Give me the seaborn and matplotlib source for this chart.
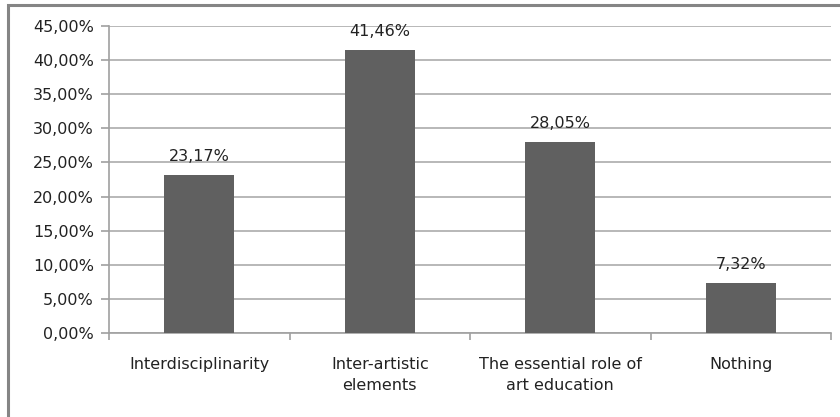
import matplotlib
matplotlib.use("Agg")
import matplotlib.pyplot as plt
import seaborn as sns
import pandas as pd
from matplotlib.ticker import FuncFormatter, MultipleLocator
from matplotlib.patches import Rectangle

categories = ["Interdisciplinarity", "Inter-artistic\nelements",
              "The essential role of\nart education", "Nothing"]
shares = [23.17, 41.46, 28.05, 7.32]

df = pd.DataFrame({"category": categories, "share": shares})

sns.set_theme(style="white")
plt.rcParams["font.family"] = ["DejaVu Sans"]

fig = plt.figure(figsize=(8.4, 4.17), dpi=100)
ax = fig.add_axes([0.1298, 0.2014, 0.8595, 0.7362])

sns.barplot(data=df, x="category", y="share", color="#606060",
            saturation=1, width=0.39, ax=ax, zorder=3,
            edgecolor="#606060", linewidth=0)

ax.set_ylim(0, 45)
ax.set_xlim(-0.5, 3.5)
ax.yaxis.set_major_locator(MultipleLocator(5))
ax.yaxis.set_major_formatter(FuncFormatter(lambda v, _: f"{v:.2f}%".replace(".", ",")))
ax.grid(axis="y", color="#ababab", linewidth=1.2, zorder=0)
ax.set_axisbelow(True)
ax.set_xlabel("")
ax.set_ylabel("")

for side in ["top", "right"]:
    ax.spines[side].set_visible(False)
for side in ["left", "bottom"]:
    ax.spines[side].set_color("#a0a0a0")
    ax.spines[side].set_linewidth(1.2)

# Ticks: y ticks outward to the left, x ticks at category boundaries
ax.tick_params(axis="y", which="major", length=6, width=1.2, color="#a0a0a0",
               labelsize=11.5, labelcolor="#222222", pad=5, left=True)
ax.set_xticks(range(len(categories)))
ax.set_xticklabels(categories, linespacing=1.55)
ax.tick_params(axis="x", which="major", length=0, labelsize=11.5,
               labelcolor="#222222", pad=17)
ax.set_xticks([-0.5, 0.5, 1.5, 2.5, 3.5], minor=True)
ax.tick_params(axis="x", which="minor", length=5, width=1.2, color="#a0a0a0",
               bottom=True)

for container in ax.containers:
    ax.bar_label(container, labels=[f"{v:.2f}%".replace(".", ",") for v in shares],
                 padding=8, fontsize=11.5, color="#222222")

# Outer chart frame
fig.patches.append(Rectangle((8 / 840, -0.05), 1.0, 1 - 5 / 417 + 0.05,
                             transform=fig.transFigure, fill=False,
                             edgecolor="#858585", linewidth=2.2))

fig.savefig("out.png", dpi=100, facecolor="white")
